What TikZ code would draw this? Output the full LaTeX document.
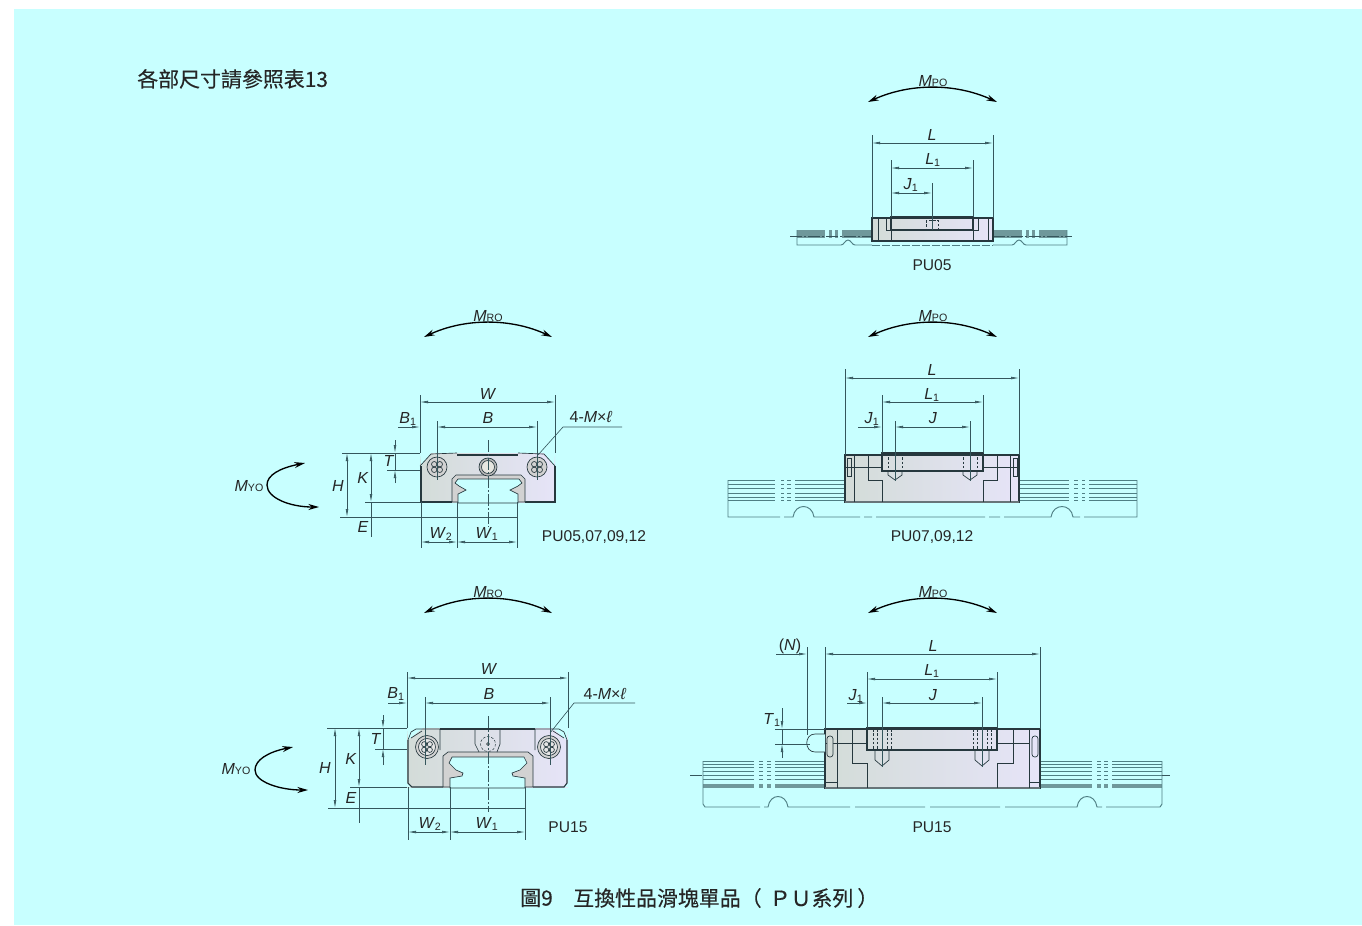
\documentclass[tikz,border=0pt]{standalone}
\usepackage{fontspec}
\setmainfont{Liberation Sans}
\newfontfamily\cjk[FakeBold=0.25]{Noto Sans CJK TC}
\usetikzlibrary{arrows.meta}
\definecolor{bgcol}{HTML}{C8FFFF}
\definecolor{inkcol}{HTML}{26383E}
\definecolor{dimcol}{HTML}{35565C}
\definecolor{railcol}{HTML}{4F7F84}
\definecolor{railband}{HTML}{6F989B}
\definecolor{bodyleft}{HTML}{D3DCD8}
\definecolor{bodymid}{HTML}{E6E6E0}
\definecolor{bodyright}{HTML}{E6E4F8}

\begin{document}
\begin{tikzpicture}
[
  x=0.75pt,
  y=-0.75pt,
  dimline/.style={draw=dimcol,line width=0.45pt,{Latex[length=6pt,width=2pt]}-{Latex[length=6pt,width=2pt]}},
  dimend/.style={draw=dimcol,line width=0.45pt,-{Latex[length=6pt,width=2pt]}},
  extline/.style={draw=dimcol,line width=0.45pt},
  axisline/.style={draw=dimcol,line width=0.35pt,dash pattern=on 9pt off 1.5pt on 1.5pt off 1.5pt},
  outline/.style={draw=inkcol,line width=0.8pt},
  thinout/.style={draw=inkcol,line width=0.5pt},
  hidden/.style={draw=inkcol,line width=0.35pt,dash pattern=on 2pt off 1.2pt},
  railline/.style={draw=railcol,line width=0.7pt},
  bodyshade/.style={left color=bodyleft,middle color=bodymid,right color=bodyright},
  moment/.style={draw=black,line width=1pt,{Stealth[length=8pt,width=4.5pt]}-{Stealth[length=8pt,width=4.5pt]}},
  lab/.style={inner sep=0pt,text=black!85,font=\fontsize{12}{13}\selectfont},
  typelab/.style={inner sep=0pt,text=black!85,font=\fontsize{11.7}{13}\selectfont},
  cjklab/.style={inner sep=0pt,text=black!85,font=\cjk\fontsize{15.7}{18}\selectfont}
]
\useasboundingbox (0,0) rectangle (1362,925);
\fill[white] (0,0) rectangle (1362,925);
\fill[bgcol] (14,9) rectangle (1362,925);

% Headline and caption
\node[cjklab,anchor=west] (note) at (137,79) {各部尺寸請參照表13};
\node[cjklab,anchor=west] (figno) at (520,898) {圖9};
\node[cjklab,anchor=west] (caption) at (573,898) {互換性品滑塊單品（\kern6pt ＰＵ系列\kern3pt ）};

% Moment arrows
\foreach \y/\n in {102/a,337/b,613/c} {
  \draw[moment] (868,\y) .. controls (910,\y-19) and (955,\y-19) .. (997,\y);
  \node[lab] (mp\n) at (933,\y-21) {\textit{M}{\footnotesize PO}};
}
\foreach \y/\n in {337/a,613/b} {
  \draw[moment] (424,\y) .. controls (465,\y-19) and (511,\y-19) .. (552,\y);
  \node[lab] (mr\n) at (488,\y-21) {\textit{M}{\footnotesize RO}};
}
\draw[moment] (305,463) .. controls (280,468) and (267,475) .. (267,485) .. controls (267,498) and (290,507) .. (319,507);
\node[lab] (mya) at (249,486) {\textit{M}{\footnotesize YO}};
\draw[moment] (293,747) .. controls (268,752) and (255,760) .. (255,770) .. controls (255,782) and (280,790) .. (308,790);
\node[lab] (myb) at (236,769) {\textit{M}{\footnotesize YO}};

% End view, PU05,07,09,12
\shade[bodyshade] (420,453) rectangle (555,502);
\fill[bgcol] (420,453) -- (431,453) -- (421,466) -- cycle;
\fill[bgcol] (555,453) -- (544,453) -- (554,466) -- cycle;
\draw[thinout] (420,466) -- (431,454) -- (457,453);
\draw[thinout] (555,466) -- (544,454) -- (518,453);
\draw[outline] (457,455) -- (518,455);
\draw[outline] (421,466) -- (421,502) -- (452,502);
\draw[outline] (525,502) -- (555,502) -- (555,466);
\filldraw[fill=gray!35,thinout] (452,502) -- (452,479) -- (456,475) -- (521,475) -- (525,479) -- (525,502) -- cycle;
\filldraw[fill=bgcol,thinout] (458,503) -- (458,494) -- (466,490) -- (459,486) -- (455,483) -- (458,479) -- (519,479) -- (522,483) -- (518,486) -- (510,490) -- (518,494) -- (518,503) -- cycle;
\foreach \x in {437,537} {
  \filldraw[fill=gray!35,thinout] (\x,467) circle (10);
  \foreach \dx/\dy in {-2.8/-2.8,2.8/-2.8,-2.8/2.8,2.8/2.8} {
    \draw[thinout] (\x+\dx,467+\dy) circle (2.7);
  }
}
\filldraw[fill=gray!55,thinout] (488,467) circle (9);
\filldraw[fill=bodymid,thinout] (488,467) circle (6.5);

% Dimensions of the end view
\draw[axisline] (488,440) -- (488,527);
\draw[extline] (420,395) -- (420,453) (555,395) -- (555,453);
\draw[extline] (437,421) -- (437,480) (537,421) -- (537,480);
\draw[dimline] (420,402) -- (555,402);
\draw[dimline] (437,427) -- (537,427);
\draw[dimend] (398,427) -- (420,427);
\draw[extline] (622,427) -- (563,427) -- (538,455);
\draw[extline] (342,453) -- (420,453) (340,517) -- (517,517) (365,502) -- (420,502) (387,470) -- (420,470);
\draw[dimline] (347,453) -- (347,517);
\draw[dimline] (371,453) -- (371,502);
\draw[extline] (371,502) -- (371,537);
\draw[extline] (395,453) -- (395,470);
\draw[dimend] (395,440) -- (395,453);
\draw[dimend] (395,483) -- (395,470);
\draw[extline] (421,502) -- (421,548) (457,502) -- (457,548) (517,502) -- (517,548);
\draw[dimline] (421,542) -- (457,542);
\draw[dimline] (457,542) -- (517,542);
\node[lab] (wa) at (488,394) {\textit{W}};
\node[lab] (ba) at (488,418) {\textit{B}};
\node[lab] (bia) at (408,419) {\textit{B}\textsubscript{1}};
\node[lab] (ma) at (591,417) {4-\textit{M}×\textit{ℓ}};
\node[lab] (ha) at (338,486) {\textit{H}};
\node[lab] (ka) at (363,478) {\textit{K}};
\node[lab] (ta) at (389,461) {\textit{T}};
\node[lab] (ea) at (363,527) {\textit{E}};
\node[lab] (wia) at (441,534) {\textit{W}\textsubscript{2}};
\node[lab] (wib) at (487,534) {\textit{W}\textsubscript{1}};
\node[typelab] (pua) at (594,537) {PU05,07,09,12};

% End view, PU15
\shade[bodyshade] (407,728) rectangle (568,787);
\fill[bgcol] (407,728) -- (423,728) -- (408,740) -- cycle;
\fill[bgcol] (568,728) -- (552,728) -- (567,740) -- cycle;
\fill[bgcol] (407,787) -- (411,787) -- (407,783) -- cycle;
\fill[bgcol] (568,787) -- (564,787) -- (568,783) -- cycle;
\draw[thinout] (408,740) -- (411,732) -- (416,729) -- (440,729) -- (440,750);
\draw[thinout] (567,740) -- (564,732) -- (559,729) -- (535,729) -- (535,750);
\draw[thinout] (411,738) -- (422,731) (564,738) -- (553,731);
\draw[outline] (440,729) -- (535,729);
\draw[outline] (408,740) -- (408,783) -- (412,787) -- (443,787);
\draw[outline] (533,787) -- (564,787) -- (567,783) -- (567,740);
\filldraw[fill=gray!35,thinout] (443,787) -- (443,756) -- (448,752) -- (528,752) -- (533,756) -- (533,787) -- cycle;
\filldraw[fill=bgcol,thinout] (450,788) -- (450,778) -- (462,776) -- (463,773) -- (456,770) -- (449,763) -- (452,757) -- (524,757) -- (527,763) -- (520,770) -- (512,773) -- (513,776) -- (525,778) -- (525,788) -- cycle;
\draw[thinout] (475,729) -- (475,744) -- (479,752) (497,752) -- (500,744) -- (500,729);
\draw[hidden] (488,744) circle (7.5);
\filldraw[fill=gray!60,thinout] (488,744) circle (1.5);
\foreach \x in {427,549} {
  \filldraw[fill=gray!35,thinout] (\x,747) circle (11.5);
  \filldraw[fill=gray!20,thinout] (\x,747) circle (8.5);
  \foreach \dx/\dy in {-2.8/-2.8,2.8/-2.8,-2.8/2.8,2.8/2.8} {
    \draw[thinout] (\x+\dx,747+\dy) circle (2.6);
  }
}

% Dimensions of the PU15 end view
\draw[axisline] (488,716) -- (488,812);
\draw[extline] (407,672) -- (407,728) (568,672) -- (568,728);
\draw[extline] (425,697) -- (425,765) (550,697) -- (550,765);
\draw[dimline] (407,678) -- (568,678);
\draw[dimline] (425,703) -- (550,703);
\draw[dimend] (388,703) -- (407,703);
\draw[extline] (635,703) -- (574,703) -- (550,733);
\draw[extline] (327,728) -- (407,728) (328,808) -- (525,808) (350,787) -- (407,787) (375,749) -- (407,749);
\draw[dimline] (335,728) -- (335,808);
\draw[dimline] (359,728) -- (359,787);
\draw[extline] (359,787) -- (359,823);
\draw[extline] (383,728) -- (383,749);
\draw[dimend] (383,715) -- (383,728);
\draw[dimend] (383,765) -- (383,749);
\draw[extline] (408,787) -- (408,840) (450,787) -- (450,840) (525,787) -- (525,840);
\draw[dimline] (408,832) -- (450,832);
\draw[dimline] (450,832) -- (525,832);
\node[lab] (wb) at (489,669) {\textit{W}};
\node[lab] (bb) at (489,694) {\textit{B}};
\node[lab] (bib) at (396,694) {\textit{B}\textsubscript{1}};
\node[lab] (mb) at (605,694) {4-\textit{M}×\textit{ℓ}};
\node[lab] (hb) at (325,768) {\textit{H}};
\node[lab] (kb) at (351,759) {\textit{K}};
\node[lab] (tb) at (376,739) {\textit{T}};
\node[lab] (eb) at (351,798) {\textit{E}};
\node[lab] (wic) at (430,824) {\textit{W}\textsubscript{2}};
\node[lab] (wid) at (487,824) {\textit{W}\textsubscript{1}};
\node[typelab] (pub) at (568,827) {PU15};

% Side view, PU05
\foreach \a/\b in {797/825,829/832,835/838,842/872,993/1022,1026/1029,1032/1035,1039/1067} {
  \fill[railband] (\a,230) rectangle (\b,238);
}
\draw[railline] (797,230) -- (797,245) -- (841,245) .. controls (844,245) and (845,240) .. (848,240) .. controls (851,240) and (852,245) .. (855,245) -- (872,245);
\draw[railline] (993,245) -- (1012,245) .. controls (1015,245) and (1016,240) .. (1019,240) .. controls (1022,240) and (1023,245) .. (1026,245) -- (1067,245) -- (1067,230);
\draw[railline,dash pattern=on 6pt off 1.5pt] (872,245) -- (993,245);
\draw[axisline] (790,236) -- (872,236) (993,236) -- (1072,236);
\shade[bodyshade] (872,218) rectangle (993,241);
\draw[outline] (872,218) rectangle (993,241);
\draw[thinout] (878,218) -- (878,241) (988,218) -- (988,241);
\draw[thinout] (886,218) -- (886,230) -- (891,230) -- (891,241);
\draw[thinout] (978,218) -- (978,230) -- (973,230) -- (973,241);
\draw[outline] (891,217) rectangle (973,230);
\draw[hidden] (926,220) rectangle (938,230);
\draw[extline] (872,135) -- (872,218) (993,135) -- (993,218);
\draw[extline] (891,160) -- (891,217) (973,160) -- (973,217);
\draw[extline] (932,183) -- (932,230);
\draw[dimline] (872,143) -- (993,143);
\draw[dimline] (891,168) -- (973,168);
\draw[dimline] (891,193) -- (932,193);
\node[lab] (la) at (932,135) {\textit{L}};
\node[lab] (lia) at (933,160) {\textit{L}\textsubscript{1}};
\node[lab] (jia) at (911,185) {\textit{J}\textsubscript{1}};
\node[typelab] (puc) at (932,265) {PU05};

% Side view, PU07,09,12
\foreach \y in {480,484,488,493,497,500} {
  \draw[railline] (728,\y) -- (775,\y) (781,\y) -- (784,\y) (787,\y) -- (791,\y) (795,\y) -- (845,\y);
  \draw[railline] (1019,\y) -- (1069,\y) (1074,\y) -- (1078,\y) (1082,\y) -- (1085,\y) (1089,\y) -- (1137,\y);
}
\draw[railline] (728,480) -- (728,517) -- (780,517) (784,517) -- (793,517) .. controls (795,503) and (812,503) .. (814,517) -- (860,517) (864,517) -- (872,517) (876,517) -- (985,517) (989,517) -- (1000,517) (1004,517) -- (1051,517) .. controls (1053,503) and (1071,503) .. (1073,517) -- (1080,517) (1084,517) -- (1137,517) -- (1137,480);
\shade[bodyshade] (845,455) rectangle (1019,502);
\draw[outline] (845,455) rectangle (1019,502);
\draw[outline,line width=1.3pt,draw=inkcol!70] (845,502) -- (1019,502);
\draw[thinout] (854,455) -- (854,502) (1010,455) -- (1010,502);
\draw[thinout] (868,455) -- (868,480) -- (882,480) -- (882,502);
\draw[thinout] (997,455) -- (997,480) -- (983,480) -- (983,502);
\draw[thinout] (845,467) -- (882,467) (983,467) -- (1019,467);
\draw[thinout] (847,458) rectangle (851,476) (1013,458) rectangle (1017,476);
\draw[outline] (882,453) rectangle (983,471);
\foreach \x in {895,970} {
  \draw[hidden] (\x-7,453) -- (\x-7,471) (\x+7,453) -- (\x+7,471);
  \draw[thinout] (\x-7,471) -- (\x-7,475) -- (\x,480) -- (\x+7,475) -- (\x+7,471);
  \draw[extline] (\x,421) -- (\x,481);
}
\draw[extline] (845,369) -- (845,455) (1019,369) -- (1019,455);
\draw[extline] (882,395) -- (882,453) (983,395) -- (983,453);
\draw[dimline] (845,378) -- (1019,378);
\draw[dimline] (882,402) -- (983,402);
\draw[dimline] (895,427) -- (970,427);
\draw[dimend] (858,427) -- (882,427);
\node[lab] (lb) at (932,370) {\textit{L}};
\node[lab] (lib) at (932,395) {\textit{L}\textsubscript{1}};
\node[lab] (jb) at (933,418) {\textit{J}};
\node[lab] (jib) at (872,419) {\textit{J}\textsubscript{1}};
\node[typelab] (pud) at (932,537) {PU07,09,12};

% Side view, PU15
\foreach \y in {761,764,767,771,775,779} {
  \draw[railline] (703,\y) -- (754,\y) (759,\y) -- (763,\y) (767,\y) -- (771,\y) (775,\y) -- (825,\y);
  \draw[railline] (1040,\y) -- (1092,\y) (1097,\y) -- (1101,\y) (1104,\y) -- (1108,\y) (1112,\y) -- (1162,\y);
}
\foreach \a/\b in {703/754,759/763,767/771,775/825,1040/1092,1097/1101,1104/1108,1112/1162} {
  \fill[railband] (\a,784) rectangle (\b,788);
}
\draw[railline] (703,761) -- (703,804) -- (705,807) -- (760,807) (764,807) -- (768,807) .. controls (770,793) and (786,793) .. (788,807) -- (850,807) (855,807) -- (925,807) (930,807) -- (1000,807);
\draw[railline] (1005,807) -- (1077,807) .. controls (1079,793) and (1095,793) .. (1097,807) -- (1102,807) (1106,807) -- (1160,807) -- (1162,804) -- (1162,761);
\draw[axisline] (690,775) -- (703,775) (1162,775) -- (1170,775);
\shade[bodyshade] (825,729) rectangle (1040,788);
\draw[outline] (825,729) rectangle (1040,788);
\draw[outline,line width=1.3pt,draw=inkcol!70] (825,788) -- (1040,788);
\draw[thinout] (837,729) -- (837,788) (1029,729) -- (1029,788);
\draw[thinout] (825,782) -- (837,782) (1029,782) -- (1040,782);
\draw[thinout] (852,729) -- (852,763) -- (867,763) -- (867,788);
\draw[thinout] (1013,729) -- (1013,763) -- (997,763) -- (997,788);
\draw[thinout] (825,743) -- (867,743) (997,743) -- (1029,743);
\filldraw[fill=bodyleft,thinout,rounded corners=2pt] (827,736) rectangle (833,757);
\filldraw[fill=bodyright,thinout,rounded corners=2pt] (1032,736) rectangle (1038,757);
\filldraw[fill=bgcol,thinout] (825,734) -- (815,734) .. controls (804,734) and (804,752) .. (815,752) -- (825,752);
\draw[outline] (867,728) rectangle (997,750);
\foreach \x in {882,982} {
  \draw[hidden] (\x-9,729) -- (\x-9,750) (\x+9,729) -- (\x+9,750) (\x-5,729) -- (\x-5,750) (\x+5,729) -- (\x+5,750);
  \draw[thinout] (\x-7,750) -- (\x-7,760) -- (\x,766) -- (\x+7,760) -- (\x+7,750);
  \draw[extline] (\x,697) -- (\x,767);
}
\draw[extline] (825,647) -- (825,729) (1040,647) -- (1040,729);
\draw[extline] (867,672) -- (867,728) (997,672) -- (997,728);
\draw[extline] (807,647) -- (807,735);
\draw[dimline] (825,654) -- (1040,654);
\draw[dimend] (776,654) -- (807,654);
\draw[dimline] (867,679) -- (997,679);
\draw[dimline] (882,703) -- (982,703);
\draw[dimend] (847,703) -- (867,703);
\draw[extline] (775,729) -- (825,729) (775,744) -- (810,744);
\draw[extline] (782,729) -- (782,744);
\draw[dimend] (782,708) -- (782,729);
\draw[dimend] (782,758) -- (782,744);
\node[lab] (nc) at (790,646) {(\textit{N})};
\node[lab] (lc) at (933,646) {\textit{L}};
\node[lab] (lic) at (932,671) {\textit{L}\textsubscript{1}};
\node[lab] (jc) at (933,695) {\textit{J}};
\node[lab] (jic) at (856,696) {\textit{J}\textsubscript{1}};
\node[lab] (tic) at (772,720) {\textit{T}\textsubscript{1}};
\node[typelab] (pue) at (932,827) {PU15};

\end{tikzpicture}
\end{document}
